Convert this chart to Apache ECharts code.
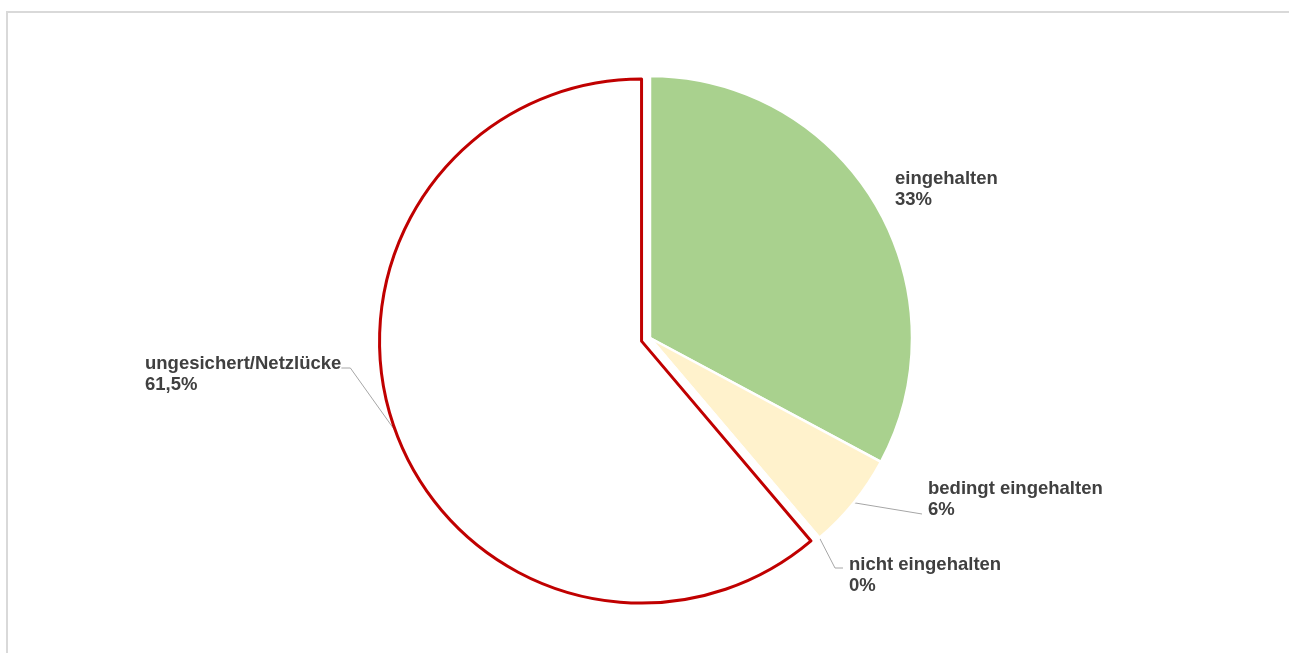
<!DOCTYPE html>
<html>
<head>
<meta charset="utf-8">
<script src="https://cdn.jsdelivr.net/npm/echarts@6/dist/echarts.min.js"></script>
<style>
    html, body { margin: 0; padding: 0; background: #fff; }
    #frame { position: absolute; left: 6px; top: 11px; width: 1400px; height: 800px; border-left: 2px solid #d9d9d9; border-top: 2px solid #d9d9d9; }
    #main { position: absolute; left: 0; top: 0; width: 1289px; height: 653px; }
</style>
</head>
<body>
<div id="frame"></div>
<div id="main"></div>
<script>
// Anteile in Prozent
var categories = ['eingehalten', 'bedingt eingehalten', 'nicht eingehalten', 'ungesichert/Netzlücke'];
var values = [33, 6, 0, 61.5];
var valueLabels = ['33%', '6%', '0%', '61,5%'];

var sliceColors = ['#a9d18e', '#fff2cc', '#f4b183', '#ffffff'];
// linke obere Ecke der Beschriftungen
var labelSpots = [[895, 168], [928, 478], [849, 554], [145, 353]];
var pieCenter = [650, 338];
var pieRadius = 262;
var explodeIndex = 3;   // herausgezogenes Segment
var explodeOffset = 9;

var chart = echarts.init(document.getElementById('main'));

// Verschiebung des herausgezogenen Segments entlang seiner Mittelachse
var total = values.reduce(function (a, b) { return a + b; }, 0);
var before = 0;
for (var k = 0; k < explodeIndex; k++) before += values[k];
var midAngle = (before + values[explodeIndex] / 2) / total * 2 * Math.PI;
var explodeCenter = [
    pieCenter[0] + Math.sin(midAngle) * explodeOffset,
    pieCenter[1] - Math.cos(midAngle) * explodeOffset
];

var hidden = {
    itemStyle: { color: 'transparent', borderWidth: 0 },
    label: { show: false },
    labelLine: { show: false }
};

function buildData(showExploded) {
    return categories.map(function (name, i) {
        var item = { name: name, value: values[i] };
        var isExploded = i === explodeIndex;
        if (isExploded !== showExploded) {
            return Object.assign(item, hidden);
        }
        if (isExploded) {
            item.itemStyle = { color: '#ffffff', borderColor: '#c00000', borderWidth: 3 };
        } else {
            item.itemStyle = { color: sliceColors[i], borderColor: '#ffffff', borderWidth: 2.5 };
        }
        if (i === 0) {
            item.labelLine = { show: false };
        }
        return item;
    });
}

var labelStyle = {
    show: true,
    position: 'outside',
    formatter: function (p) {
        return p.name + '\n' + valueLabels[p.dataIndex];
    },
    fontFamily: '"Liberation Sans", Arial, sans-serif',
    fontWeight: 'bold',
    fontSize: 18.5,
    lineHeight: 21,
    color: '#404040'
};

function placeLabel(params) {
    var i = params.dataIndex;
    var s = labelSpots[i];
    var w = params.labelRect.width;
    var out = { x: s[0], y: s[1], align: 'left', verticalAlign: 'top' };
    var p0 = params.labelLinePoints && params.labelLinePoints[0];
    if (p0) {
        if (i === 1) {
            out.labelLinePoints = [p0, [s[0] - 6, s[1] + 36], [s[0] - 6, s[1] + 36]];
        } else if (i === 2) {
            out.labelLinePoints = [p0, [s[0] - 14, s[1] + 14], [s[0] - 6, s[1] + 14]];
        } else if (i === 3) {
            out.labelLinePoints = [p0, [s[0] + w + 9, s[1] + 15], [s[0] + w, s[1] + 15]];
        }
    }
    return out;
}

var baseSeries = {
    type: 'pie',
    radius: pieRadius,
    startAngle: 90,
    clockwise: true,
    silent: true,
    emphasis: { disabled: true },
    label: labelStyle,
    labelLine: {
        show: true,
        length: 20,
        length2: 10,
        lineStyle: { color: '#a6a6a6', width: 1 }
    },
    labelLayout: placeLabel
};

var option = {
    animation: false,
    series: [
        Object.assign({}, baseSeries, { center: pieCenter, data: buildData(false) }),
        Object.assign({}, baseSeries, { center: explodeCenter, data: buildData(true) })
    ]
};
chart.setOption(option);
</script>
</body>
</html>
